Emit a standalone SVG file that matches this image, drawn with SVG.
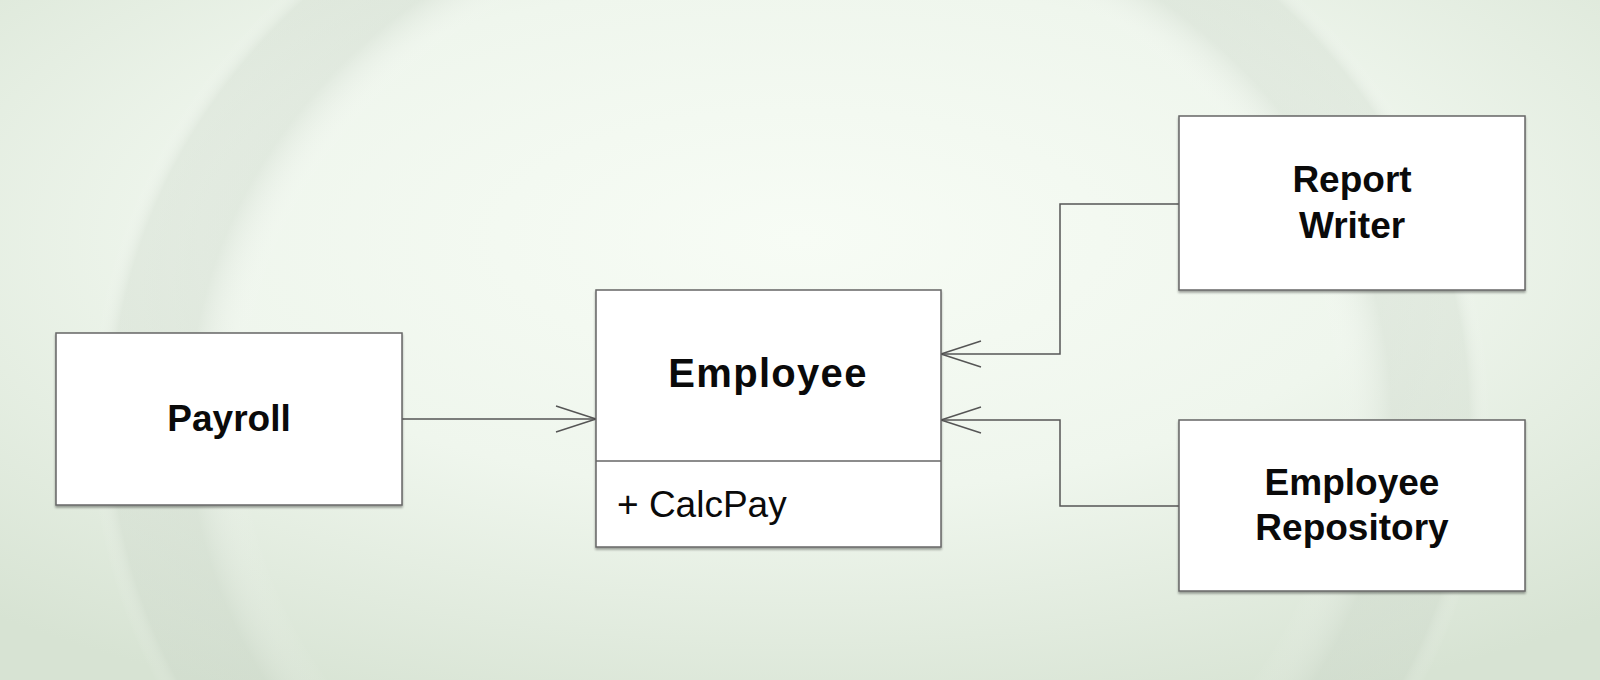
<svg xmlns="http://www.w3.org/2000/svg" width="1600" height="680" viewBox="0 0 1600 680">
<defs>
<radialGradient id="bg" cx="0.5" cy="0.35" r="0.75">
<stop offset="0" stop-color="#f7fcf5"/>
<stop offset="0.5" stop-color="#eff6ed"/>
<stop offset="1" stop-color="#d7e3d3"/>
</radialGradient>
<radialGradient id="ring" cx="0.5" cy="0.5" r="0.5">
<stop offset="0" stop-color="#ffffff" stop-opacity="0"/>
<stop offset="0.78" stop-color="#ffffff" stop-opacity="0"/>
<stop offset="0.86" stop-color="#c8d3c6" stop-opacity="0.35"/>
<stop offset="0.97" stop-color="#c8d3c6" stop-opacity="0.3"/>
<stop offset="1" stop-color="#ffffff" stop-opacity="0"/>
</radialGradient>
<marker id="open" viewBox="0 0 42 28" refX="41" refY="14" markerWidth="42" markerHeight="28" markerUnits="userSpaceOnUse" orient="auto">
<path d="M1,1 L41,14 L1,27" fill="none" stroke="#555" stroke-width="1.4"/>
</marker>
<filter id="sh" x="-5%" y="-5%" width="110%" height="115%">
<feDropShadow dx="0" dy="2" stdDeviation="1" flood-color="#000" flood-opacity="0.35"/>
</filter>
</defs>
<style>
.box{fill:#ffffff;stroke:#666;stroke-width:1.5;filter:url(#sh)}
.line{fill:none;stroke:#555;stroke-width:1.5}
.t{font-family:"Liberation Sans",Arial,sans-serif;font-weight:bold;fill:#0a0a0a;text-anchor:middle}
.m{font-family:"Liberation Sans",Arial,sans-serif;fill:#0a0a0a}
</style>
<rect x="0" y="0" width="1600" height="680" fill="url(#bg)"/>
<ellipse cx="790" cy="420" rx="700" ry="620" fill="url(#ring)"/>

<g id="connectors">
<path class="line" d="M402,419 L596,419" marker-end="url(#open)"/>
<path class="line" d="M1179,204 L1060,204 L1060,354 L941,354" marker-end="url(#open)"/>
<path class="line" d="M1179,506 L1060,506 L1060,420 L941,420" marker-end="url(#open)"/>
</g>

<g id="payroll">
<rect class="box" x="56" y="333" width="346" height="172"/>
<text class="t" x="229" y="431" font-size="37">Payroll</text>
</g>

<g id="employee">
<rect class="box" x="596" y="290" width="345" height="257"/>
<line x1="596" y1="461" x2="941" y2="461" stroke="#666" stroke-width="1.5"/>
<text class="t" x="768" y="387" font-size="40" letter-spacing="1.3">Employee</text>
<text class="m" x="617" y="517" font-size="37">+ CalcPay</text>
</g>

<g id="report-writer">
<rect class="box" x="1179" y="116" width="346" height="174"/>
<text class="t" x="1352" y="192" font-size="37">Report</text>
<text class="t" x="1352" y="238" font-size="37">Writer</text>
</g>

<g id="employee-repository">
<rect class="box" x="1179" y="420" width="346" height="171"/>
<text class="t" x="1352" y="495" font-size="37">Employee</text>
<text class="t" x="1352" y="540" font-size="37">Repository</text>
</g>
</svg>
